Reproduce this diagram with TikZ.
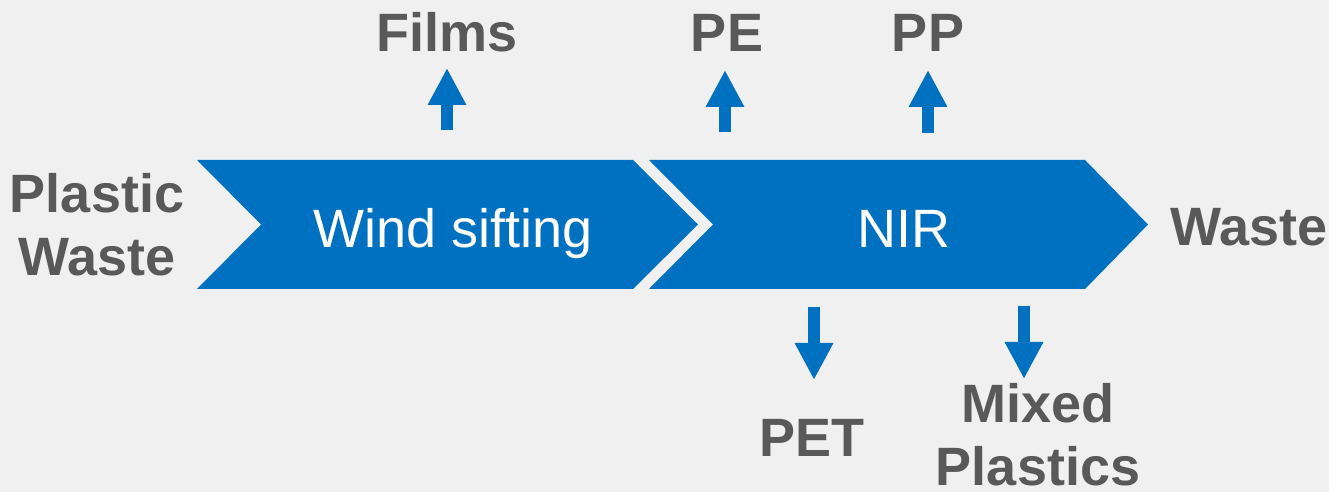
\documentclass[tikz,border=0pt]{standalone}
\usepackage{fontspec}
\setmainfont{Liberation Sans}
\usetikzlibrary{arrows.meta}
\definecolor{bgc}{HTML}{F0F0F0}
\definecolor{blu}{HTML}{0070C0}
\definecolor{lbl}{HTML}{595959}
\tikzset{
  chev/.style={fill=blu, draw=none},
  chevtext/.style={text=white, font=\fontsize{54}{63}\selectfont, anchor=base, inner sep=0pt},
  lab/.style={text=lbl, font=\bfseries\fontsize{54}{63}\selectfont, anchor=base, inner sep=0pt, align=center},
  barrow/.style={draw=blu, line width=12.5pt, -{Triangle[width=36pt,length=37pt]}}
}
\begin{document}
\begin{tikzpicture}[x=1pt,y=1pt]
\fill[bgc] (0,0) rectangle (1329,492);
\useasboundingbox (0,0) rectangle (1329,492);
% chevrons
\fill[chev] (197,332) -- (633,332) -- (698,267.5) -- (633,203) -- (197,203) -- (261,267.5) -- cycle;
\fill[chev] (649,332) -- (1085,332) -- (1148,267.5) -- (1085,203) -- (649,203) -- (713,267.5) -- cycle;
\node[chevtext] (wind) at (453,244) {Wind sifting};
\node[chevtext] (nir) at (904,244) {NIR};
% labels (base anchor = baseline of last line)
\node[lab] (plastic) at (97,216) {Plastic\\Waste};
\node[lab] (waste) at (1249,246) {Waste};
\node[lab] (films) at (447,440) {Films};
\node[lab] (pe) at (727,440) {PE};
\node[lab] (pp) at (928,440) {PP};
\node[lab] (pet) at (812,35) {PET};
\node[lab] (mixed) at (1038,6) {Mixed\\Plastics};
% arrows
\coordinate (fa0) at (447,362); \coordinate (fa1) at (447,424);
\coordinate (pea0) at (725,360); \coordinate (pea1) at (725,422);
\coordinate (ppa0) at (928,359); \coordinate (ppa1) at (928,422);
\coordinate (peta0) at (814,185); \coordinate (peta1) at (814,112);
\coordinate (mxa0) at (1024,186); \coordinate (mxa1) at (1024,113);
\draw[barrow] (fa0) -- (fa1);
\draw[barrow] (pea0) -- (pea1);
\draw[barrow] (ppa0) -- (ppa1);
\draw[barrow] (peta0) -- (peta1);
\draw[barrow] (mxa0) -- (mxa1);
\end{tikzpicture}
\end{document}
